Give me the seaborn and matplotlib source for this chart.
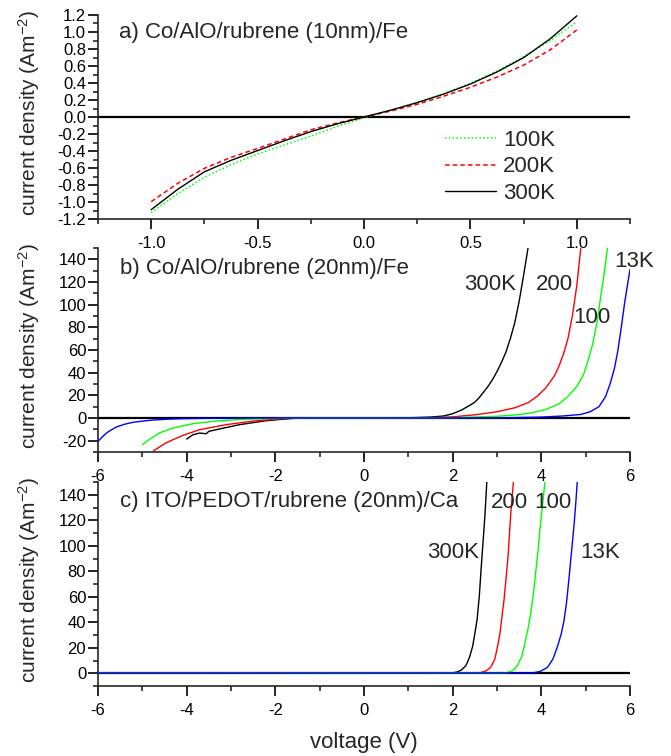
import matplotlib
matplotlib.use("Agg")
import matplotlib.pyplot as plt
from matplotlib.ticker import MultipleLocator, FormatStrFormatter
import seaborn as sns
import pandas as pd

# ---------------- data ----------------
# panel a: Co/AlO/rubrene (10nm)/Fe
a_V = [-1.0, -0.875, -0.75, -0.625, -0.5, -0.375, -0.25, -0.125, 0.0,
       0.125, 0.25, 0.375, 0.5, 0.625, 0.75, 0.875, 1.0]
a_100K = [-1.125, -0.90, -0.71, -0.56, -0.435, -0.33, -0.224, -0.11, -0.01,
          0.08, 0.169, 0.275, 0.396, 0.54, 0.71, 0.90, 1.12]
a_200K = [-0.996, -0.78, -0.604, -0.475, -0.37, -0.26, -0.15, -0.07, 0.0,
          0.07, 0.149, 0.245, 0.35, 0.47, 0.61, 0.79, 1.024]
a_300K = [-1.09, -0.85, -0.645, -0.51, -0.395, -0.28, -0.172, -0.08, 0.0,
          0.08, 0.169, 0.27, 0.388, 0.53, 0.698, 0.92, 1.19]

# panel b: Co/AlO/rubrene (20nm)/Fe
b_300K_V = [-4.0, -3.86, -3.71, -3.56, -3.5, -3.26, -2.81, -2.21, -1.61, -1.0, 0.0,
            1.0, 1.5, 1.8, 2.0, 2.2, 2.4, 2.5, 2.6, 2.7, 2.8, 2.9, 3.0, 3.1, 3.2,
            3.3, 3.4, 3.5, 3.6, 3.7]
b_300K_J = [-18.6, -14.8, -13.3, -13.9, -11.8, -9.7, -5.9, -2.4, -0.3, 0.0, 0.0,
            0.2, 0.8, 1.8, 3.8, 7.0, 11.5, 14.0, 18.0, 23.0, 28.0, 34.0, 41.0, 49.0, 58.0,
            70.0, 84.0, 103.0, 126.0, 150.0]
b_200K_V = [-4.75, -4.47, -4.09, -3.71, -3.11, -2.51, -1.84, -1.2, 0.0,
            1.5, 2.0, 2.5, 3.0, 3.4, 3.7, 3.9, 4.1, 4.3, 4.4, 4.5, 4.6, 4.7, 4.8, 4.89]
b_200K_J = [-29.0, -22.0, -15.4, -10.3, -5.9, -2.7, -0.6, 0.0, 0.0,
            0.3, 1.0, 2.8, 5.5, 9.0, 13.5, 19.0, 26.5, 37.5, 46.0, 56.5, 70.0, 90.0, 117.0, 150.0]
b_100K_V = [-5.0, -4.83, -4.62, -4.32, -3.86, -3.35, -2.6, -1.8, -1.0, 0.0,
            2.0, 3.0, 3.5, 3.8, 4.1, 4.4, 4.6, 4.8, 4.95, 5.05, 5.15, 5.25, 5.35, 5.42, 5.49]
b_100K_J = [-23.6, -18.6, -13.3, -8.9, -5.0, -2.7, -0.9, -0.2, 0.0, 0.0,
            0.2, 1.5, 3.0, 4.8, 7.5, 12.5, 19.0, 28.0, 38.0, 50.0, 64.0, 83.0, 110.0, 128.0, 150.0]
b_13K_V = [-6.0, -5.9, -5.81, -5.7, -5.59, -5.4, -5.21, -4.83, -4.4, -4.09, -3.5, -2.5, 0.0,
           3.0, 4.0, 4.5, 4.9, 5.1, 5.3, 5.45, 5.55, 5.65, 5.72, 5.8, 5.88, 5.95, 6.0]
b_13K_J = [-20.7, -16.5, -13.3, -10.5, -8.0, -5.5, -3.8, -2.0, -1.0, -0.6, -0.2, 0.0, 0.0,
           0.1, 0.8, 1.8, 3.2, 5.5, 10.0, 19.0, 30.0, 44.0, 58.0, 79.0, 102.0, 119.0, 131.0]

# panel c: ITO/PEDOT/rubrene (20nm)/Ca
c_300K_V = [-6.0, 2.0, 2.1, 2.2, 2.3, 2.38, 2.45, 2.5, 2.55, 2.6, 2.65, 2.7, 2.73, 2.77]
c_300K_J = [0.0, 0.3, 1.0, 2.6, 6.0, 12.6, 21.0, 31.0, 42.0, 60.0, 86.0, 110.0, 125.0, 150.0]
c_200K_V = [-6.0, 2.6, 2.75, 2.86, 2.95, 3.01, 3.07, 3.12, 3.16, 3.2, 3.25, 3.31, 3.37]
c_200K_J = [0.0, 0.2, 1.8, 4.7, 11.0, 20.5, 32.0, 46.7, 58.0, 72.9, 92.0, 125.0, 150.0]
c_100K_V = [-6.0, 3.2, 3.35, 3.46, 3.55, 3.61, 3.7, 3.76, 3.82, 3.87, 3.93, 3.98, 4.03, 4.08]
c_100K_J = [0.0, 0.2, 2.0, 6.0, 12.5, 20.5, 35.0, 46.7, 62.0, 78.0, 98.0, 117.0, 133.0, 150.0]
c_13K_V = [-6.0, 3.8, 3.98, 4.14, 4.26, 4.36, 4.45, 4.51, 4.57, 4.62, 4.68, 4.74, 4.78, 4.81]
c_13K_J = [0.0, 0.2, 1.5, 4.7, 11.0, 20.5, 31.0, 41.0, 56.0, 73.0, 95.0, 117.0, 135.0, 150.0]

titles = ["a) Co/AlO/rubrene (10nm)/Fe",
          "b) Co/AlO/rubrene (20nm)/Fe",
          "c) ITO/PEDOT/rubrene (20nm)/Ca"]
legend_labels = ["100K", "200K", "300K"]
b_curve_labels = ["300K", "200", "100", "13K"]
c_curve_labels = ["300K", "200", "100", "13K"]

# ---------------- style ----------------
sns.set_theme(style="ticks")
plt.rcParams['font.family'] = ['Liberation Sans', 'DejaVu Sans']
plt.rcParams['axes.linewidth'] = 1.2
plt.rcParams['axes.unicode_minus'] = False
plt.rcParams['mathtext.default'] = 'regular'

GREEN, RED, BLUE, BLACK = "#00ff00", "#ff0000", "#0000ff", "#000000"
TXT = 16
YLAB = 15
TICK = 12

W, H = 671, 756
fig = plt.figure(figsize=(W / 100, H / 100), dpi=100)
L, AW, AH = 98 / W, 532 / W, 204 / H
axa = fig.add_axes([L, (H - 219) / H, AW, AH])
axb = fig.add_axes([L, (H - 452) / H, AW, AH])
axc = fig.add_axes([L, (H - 686) / H, AW, AH])


def style_axis(ax):
    for s in ["top", "right"]:
        ax.spines[s].set_visible(False)
    ax.tick_params(which="major", direction="out", length=7.5, width=1.2,
                   labelsize=TICK, pad=1, colors="black")
    ax.tick_params(which="minor", direction="out", length=3.5, width=1.2)
    ax.tick_params(axis="x", which="major", pad=5)
    ax.set_facecolor("white")
    ax.grid(False)
    ax.axhline(0, color="black", lw=1.6, zorder=1)
    ax.set_ylabel("current density (Am$^{-2}$)", fontsize=YLAB)
    ax.yaxis.set_label_coords(-0.105, 0.52)
    ax.set_xlabel("")


# panel a
dfa = pd.DataFrame({"V": a_V, "100K": a_100K, "200K": a_200K, "300K": a_300K})
sns.lineplot(data=dfa, x="V", y="100K", ax=axa, color=GREEN, lw=1.1,
             linestyle=(0, (1, 1.5)), label=legend_labels[0], zorder=3)
sns.lineplot(data=dfa, x="V", y="200K", ax=axa, color=RED, lw=1.1,
             linestyle=(0, (3, 2)), label=legend_labels[1], zorder=3)
sns.lineplot(data=dfa, x="V", y="300K", ax=axa, color=BLACK, lw=1.0,
             label=legend_labels[2], zorder=4)
axa.set_xlim(-1.25, 1.25)
axa.set_ylim(-1.2, 1.2)
axa.xaxis.set_major_locator(MultipleLocator(0.5))
axa.xaxis.set_minor_locator(MultipleLocator(0.25))
axa.yaxis.set_major_locator(MultipleLocator(0.2))
axa.yaxis.set_minor_locator(MultipleLocator(0.1))
axa.xaxis.set_major_formatter(FormatStrFormatter("%.1f"))
axa.yaxis.set_major_formatter(FormatStrFormatter("%.1f"))
style_axis(axa)
axa.text(-1.15, 0.99, titles[0], fontsize=TXT, va="center", ha="left")
leg = axa.legend(loc="center left", bbox_to_anchor=(0.652, 0.255), frameon=False,
                 fontsize=TXT, handlelength=2.3, handletextpad=0.32,
                 labelspacing=0.25, borderpad=0, borderaxespad=0)

# panel b
b_sets = [(b_300K_V, b_300K_J, BLACK), (b_200K_V, b_200K_J, RED),
          (b_100K_V, b_100K_J, GREEN), (b_13K_V, b_13K_J, BLUE)]
for v, j, col in b_sets:
    sns.lineplot(x=v, y=j, ax=axb, color=col, lw=1.0, sort=False,
                 estimator=None, zorder=3)
axb.set_xlim(-6, 6)
axb.set_ylim(-30, 150)
axb.xaxis.set_major_locator(MultipleLocator(2))
axb.xaxis.set_minor_locator(MultipleLocator(1))
axb.yaxis.set_major_locator(MultipleLocator(20))
axb.yaxis.set_minor_locator(MultipleLocator(10))
style_axis(axb)
axb.text(-5.5, 132, titles[1], fontsize=TXT, va="center", ha="left")
b_pos = [(2.26, 118), (3.88, 118), (4.71, 88.6), (5.64, 138)]
for lab, (x, y) in zip(b_curve_labels, b_pos):
    axb.text(x, y, lab, fontsize=TXT, va="center", ha="left")

# panel c
c_sets = [(c_300K_V, c_300K_J, BLACK), (c_200K_V, c_200K_J, RED),
          (c_100K_V, c_100K_J, GREEN), (c_13K_V, c_13K_J, BLUE)]
for v, j, col in c_sets:
    sns.lineplot(x=v, y=j, ax=axc, color=col, lw=1.0, sort=False,
                 estimator=None, zorder=3)
axc.set_xlim(-6, 6)
axc.set_ylim(-10, 150)
axc.xaxis.set_major_locator(MultipleLocator(2))
axc.xaxis.set_minor_locator(MultipleLocator(1))
axc.yaxis.set_major_locator(MultipleLocator(20))
axc.yaxis.set_minor_locator(MultipleLocator(10))
style_axis(axc)
axc.text(-5.5, 134.5, titles[2], fontsize=TXT, va="center", ha="left")
c_pos = [(1.42, 95), (2.86, 134), (3.83, 134), (4.87, 95)]
for lab, (x, y) in zip(c_curve_labels, c_pos):
    axc.text(x, y, lab, fontsize=TXT, va="center", ha="left")
axc.set_xlabel("voltage (V)", fontsize=TXT)
axc.xaxis.set_label_coords(0.5, -0.225)

fig.savefig("out.png", dpi=100, facecolor="white")
